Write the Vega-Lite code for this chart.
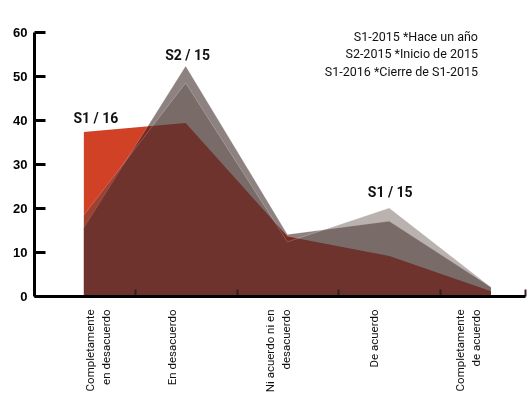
{
  "$schema": "https://vega.github.io/schema/vega-lite/v6.json",
  "width": 491,
  "height": 264,
  "autosize": {"type": "none"},
  "padding": {"left": 34, "top": 32, "right": 2, "bottom": 101},
  "background": "white",
  "config": {"view": {"stroke": null}},
  "title": {
    "text": ["S1-2015 *Hace un año", "S2-2015 *Inicio de 2015", "S1-2016 *Cierre de S1-2015"],
    "anchor": "end",
    "frame": "group",
    "align": "right",
    "baseline": "top",
    "font": "Roboto",
    "fontSize": 12.5,
    "fontWeight": "normal",
    "color": "#111111",
    "lineHeight": 17.5,
    "dx": -47,
    "dy": 44,
    "offset": -8
  },
  "datasets": {
    "encuesta": [
      {"cat": 0, "respuesta": "Completamente en desacuerdo", "serie": "S1-2016", "valor": 37.3},
      {"cat": 1, "respuesta": "En desacuerdo", "serie": "S1-2016", "valor": 39.3},
      {"cat": 2, "respuesta": "Ni acuerdo ni en desacuerdo", "serie": "S1-2016", "valor": 13.5},
      {"cat": 3, "respuesta": "De acuerdo", "serie": "S1-2016", "valor": 9.1},
      {"cat": 4, "respuesta": "Completamente de acuerdo", "serie": "S1-2016", "valor": 1.1},
      {"cat": 0, "respuesta": "Completamente en desacuerdo", "serie": "S2-2015", "valor": 15.5},
      {"cat": 1, "respuesta": "En desacuerdo", "serie": "S2-2015", "valor": 52.3},
      {"cat": 2, "respuesta": "Ni acuerdo ni en desacuerdo", "serie": "S2-2015", "valor": 14},
      {"cat": 3, "respuesta": "De acuerdo", "serie": "S2-2015", "valor": 17},
      {"cat": 4, "respuesta": "Completamente de acuerdo", "serie": "S2-2015", "valor": 2},
      {"cat": 0, "respuesta": "Completamente en desacuerdo", "serie": "S1-2015", "valor": 18.4},
      {"cat": 1, "respuesta": "En desacuerdo", "serie": "S1-2015", "valor": 48.4},
      {"cat": 2, "respuesta": "Ni acuerdo ni en desacuerdo", "serie": "S1-2015", "valor": 12.3},
      {"cat": 3, "respuesta": "De acuerdo", "serie": "S1-2015", "valor": 20},
      {"cat": 4, "respuesta": "Completamente de acuerdo", "serie": "S1-2015", "valor": 2}
    ],
    "notas": [
      {"cat": 0, "valor": 37.3, "nota": "S1 / 16"},
      {"cat": 1, "valor": 52.3, "nota": "S2 / 15"},
      {"cat": 3, "valor": 20, "nota": "S1 / 15"}
    ]
  },
  "data": {"name": "encuesta"},
  "encoding": {
    "x": {
      "field": "cat",
      "type": "quantitative",
      "scale": {"domain": [-0.49, 4.334], "nice": false, "zero": false},
      "axis": {
        "title": null,
        "grid": false,
        "zindex": 1,
        "values": [0, 0.5, 1, 1.5, 2, 2.5, 3, 3.5, 4, 4.334],
        "labelExpr": "datum.value === 0 ? ['Completamente', 'en desacuerdo'] : datum.value === 1 ? 'En desacuerdo' : datum.value === 2 ? ['Ni acuerdo ni en', 'desacuerdo'] : datum.value === 3 ? 'De acuerdo' : datum.value === 4 ? ['Completamente', 'de acuerdo'] : ''",
        "labelAngle": 270,
        "labelAlign": "right",
        "labelBaseline": "middle",
        "labelFont": "Roboto",
        "labelFontSize": 11.5,
        "labelLineHeight": 16,
        "labelColor": "#111111",
        "labelPadding": 20,
        "labelOverlap": false,
        "labelBound": false,
        "labelFlush": false,
        "labelOffset": {
          "condition": [
            {"test": "datum.value === 0", "value": 7},
            {"test": "datum.value === 2", "value": -17},
            {"test": "datum.value === 3", "value": -15},
            {"test": "datum.value === 4", "value": -31}
          ],
          "value": -13
        },
        "domainColor": "#000000",
        "domainWidth": 3,
        "tickColor": "#3a1c1c",
        "tickWidth": 2,
        "tickSize": -7,
        "tickOpacity": {"condition": {"test": "datum.value % 1 !== 0", "value": 1}, "value": 0}
      }
    },
    "y": {
      "field": "valor",
      "type": "quantitative",
      "scale": {"domain": [0, 60], "nice": false},
      "axis": {
        "title": null,
        "grid": false,
        "zindex": 1,
        "values": [0, 10, 20, 30, 40, 50, 60],
        "labelFont": "Liberation Sans",
        "labelFontWeight": "bold",
        "labelFontSize": 13,
        "labelColor": "#000000",
        "labelPadding": 18,
        "domainColor": "#000000",
        "domainWidth": 3,
        "tickColor": "#000000",
        "tickWidth": 3,
        "tickSize": -11
      }
    }
  },
  "layer": [
    {
      "transform": [{"filter": "datum.serie === 'S1-2016'"}],
      "mark": {"type": "area", "color": "#D04F28", "opacity": 1}
    },
    {
      "transform": [{"filter": "datum.serie === 'S2-2015'"}],
      "mark": {"type": "area", "color": "#311B18", "opacity": 0.55, "line": {"color": "#ffffff", "opacity": 0.3, "strokeWidth": 0.8}}
    },
    {
      "transform": [{"filter": "datum.serie === 'S1-2015'"}],
      "mark": {"type": "area", "color": "#5F4D46", "opacity": 0.43, "line": {"color": "#ffffff", "opacity": 0.3, "strokeWidth": 0.8}}
    },
    {
      "transform": [{"filter": "datum.serie === 'S1-2016'"}],
      "mark": {"type": "area", "color": "#FFD2F0", "opacity": 1, "blend": "multiply"}
    },
    {
      "data": {"name": "notas"},
      "transform": [{"filter": "datum.cat === 0"}],
      "mark": {"type": "text", "font": "Roboto", "fontWeight": "bold", "fontSize": 14, "color": "#111111", "baseline": "bottom", "dx": 12, "dy": -6},
      "encoding": {"text": {"field": "nota"}}
    },
    {
      "data": {"name": "notas"},
      "transform": [{"filter": "datum.cat === 1"}],
      "mark": {"type": "text", "font": "Roboto", "fontWeight": "bold", "fontSize": 14, "color": "#111111", "baseline": "bottom", "dx": 2, "dy": -3},
      "encoding": {"text": {"field": "nota"}}
    },
    {
      "data": {"name": "notas"},
      "transform": [{"filter": "datum.cat === 3"}],
      "mark": {"type": "text", "font": "Roboto", "fontWeight": "bold", "fontSize": 14, "color": "#111111", "baseline": "bottom", "dx": 1, "dy": -8},
      "encoding": {"text": {"field": "nota"}}
    }
  ]
}
